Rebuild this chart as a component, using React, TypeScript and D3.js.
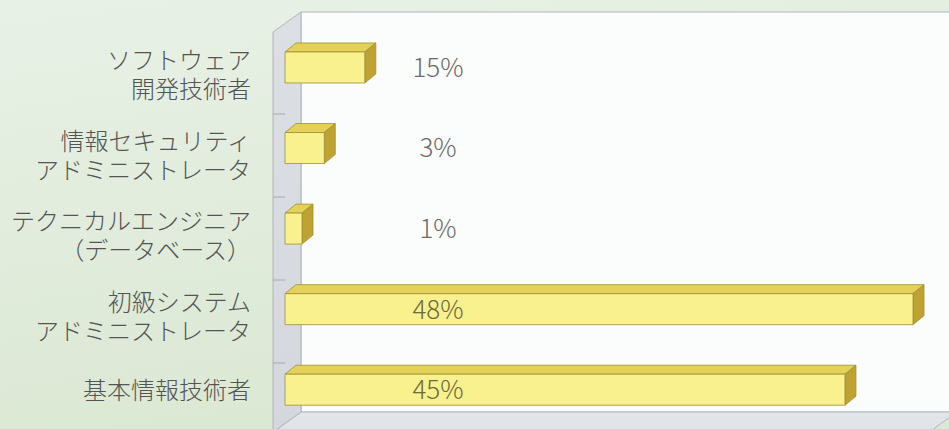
import React from "react";
import * as d3 from "d3";

const categories = ["ソフトウェア開発技術者", "情報セキュリティアドミニストレータ", "テクニカルエンジニア（データベース）", "初級システムアドミニストレータ", "基本情報技術者"];
const labelLines = [
  ["ソフトウェア", "開発技術者"],
  ["情報セキュリティ", "アドミニストレータ"],
  ["テクニカルエンジニア", "（データベース）"],
  ["初級システム", "アドミニストレータ"],
  ["基本情報技術者"],
];
const percentLabels = ["15%", "3%", "1%", "48%", "45%"];
// bar lengths as drawn in the picture (in % axis units)
const barValues = [6.1, 3.0, 1.3, 48, 42.8];
const labelInside = [false, false, false, true, true];

const W = 949;
const H = 429;

export default function App() {
  const x = d3.scaleLinear().domain([0, 48]).range([285, 913]);
  const y = d3.scaleBand<string>().domain(categories).range([27.2, 430]).paddingInner(0.615).paddingOuter(0.3075);
  const yWall = d3.scaleBand<string>().domain(categories).range([31, 446]);
  const dx = 11, dy = 9;
  const wallFront = 273, wallBack = 301, wallTopFront = 32, wallTopBack = 12, floorBack = 412, floorFront = 432;

  const ticks = categories.slice(1).map((c) => yWall(c)!);

  return (
    <div style={{ position: "fixed", left: 0, top: 0 }}>
      <svg width={W} height={H} style={{ display: "block" }}>
        <defs>
          <linearGradient id="bg" x1="0" y1="0" x2="0.3" y2="1">
            <stop offset="0" stopColor="#e8f1e6" />
            <stop offset="1" stopColor="#dbe8d3" />
          </linearGradient>
          <linearGradient id="wall" x1="0" y1="0" x2="0" y2="1">
            <stop offset="0" stopColor="#dcdfe4" />
            <stop offset="1" stopColor="#d4d8de" />
          </linearGradient>
        </defs>
        <rect x={0} y={0} width={W} height={H} fill="url(#bg)" />
        {/* back wall */}
        <rect x={wallBack} y={wallTopBack} width={W - wallBack + 20} height={floorBack - wallTopBack} fill="#fbfcfc" stroke="#b4b8bc" strokeWidth={1} />
        {/* floor */}
        <polygon
          points={`${wallBack},${floorBack} 957,${floorBack} ${957 - 28},${floorFront} ${wallFront},${floorFront}`}
          fill="#e1e5ea"
          stroke="#b4b8bc"
          strokeWidth={1}
        />
        {/* left wall */}
        <polygon
          points={`${wallFront},${wallTopFront} ${wallBack},${wallTopBack} ${wallBack},${floorBack} ${wallFront},${floorFront}`}
          fill="url(#wall)"
          stroke="#b0b4b9"
          strokeWidth={1}
        />
        {ticks.map((t, i) => (
          <line key={i} x1={wallFront} x2={wallFront + 12} y1={t} y2={t} stroke="#a6aaae" strokeWidth={1} />
        ))}
        {/* bars */}
        {categories.map((c, i) => {
          const x0 = x(0);
          const x1 = x(barValues[i]);
          const yt = y(c)!;
          const yb = yt + y.bandwidth();
          return (
            <g key={c} stroke="#a08f35" strokeWidth={0.8} strokeLinejoin="round">
              <polygon points={`${x0},${yt} ${x0 + dx},${yt - dy} ${x1 + dx},${yt - dy} ${x1},${yt}`} fill="#e3d257" />
              <polygon points={`${x1},${yt} ${x1 + dx},${yt - dy} ${x1 + dx},${yb - dy} ${x1},${yb}`} fill="#bea332" />
              <rect x={x0} y={yt} width={x1 - x0} height={yb - yt} fill="#f8f18e" />
            </g>
          );
        })}
        {/* value labels */}
        {categories.map((c, i) => (
          <text
            key={c}
            x={438}
            y={y(c)! + y.bandwidth() / 2}
            dy="0.36em"
            textAnchor="middle"
            fontFamily="'Noto Sans CJK JP', 'Noto Sans', sans-serif"
            fontWeight={300}
            fontSize={26}
            fill={labelInside[i] ? "#6d6a3e" : "#6b6b6b"}
          >
            {percentLabels[i]}
          </text>
        ))}
        {/* category labels */}
        {categories.map((c, i) => {
          const lines = labelLines[i];
          const mid = y(c)! + y.bandwidth() / 2;
          const offsets = lines.length > 1 ? [-7, 22] : [0.5];
          return lines.map((l, j) => (
            <text
              key={c + j}
              x={251}
              y={mid + offsets[j]}
              dy="0.36em"
              textAnchor="end"
              fontFamily="'Liberation Sans', 'Noto Sans CJK JP', sans-serif"
              fontWeight={300}
              fontSize={24}
              fill="#545454"
            >
              {l}
            </text>
          ));
        })}
      </svg>
    </div>
  );
}
